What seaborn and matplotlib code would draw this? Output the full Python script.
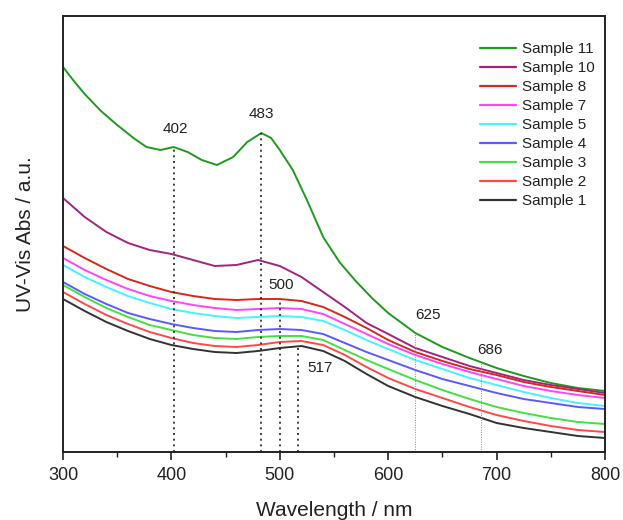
import numpy as np
import pandas as pd
import seaborn as sns
import matplotlib
matplotlib.use("Agg")
import matplotlib.pyplot as plt
from matplotlib.ticker import MultipleLocator

# ---------------- data ----------------
wavelength = [300, 320, 340, 360, 380, 400, 420, 440, 460, 480, 500, 520,
              540, 560, 580, 600, 625, 650, 675, 700, 725, 750, 775, 800]

sample_1 = [1.53, 1.41, 1.30, 1.21, 1.13, 1.07, 1.03, 1.00, 0.99, 1.01, 1.04, 1.06,
            1.01, 0.91, 0.78, 0.66, 0.55, 0.46, 0.38, 0.29, 0.24, 0.20, 0.16, 0.14]
sample_2 = [1.60, 1.48, 1.37, 1.28, 1.20, 1.14, 1.09, 1.06, 1.05, 1.07, 1.10, 1.11,
            1.07, 0.97, 0.85, 0.74, 0.63, 0.54, 0.45, 0.37, 0.31, 0.26, 0.22, 0.20]
sample_3 = [1.67, 1.55, 1.44, 1.35, 1.27, 1.22, 1.17, 1.14, 1.13, 1.15, 1.16, 1.16,
            1.12, 1.02, 0.92, 0.83, 0.72, 0.62, 0.53, 0.45, 0.39, 0.34, 0.30, 0.28]
sample_4 = [1.70, 1.58, 1.48, 1.39, 1.33, 1.28, 1.24, 1.21, 1.20, 1.22, 1.23, 1.22,
            1.18, 1.09, 1.00, 0.92, 0.82, 0.73, 0.66, 0.59, 0.53, 0.49, 0.45, 0.43]
sample_5 = [1.87, 1.75, 1.65, 1.56, 1.49, 1.43, 1.39, 1.36, 1.34, 1.35, 1.36, 1.35,
            1.31, 1.22, 1.12, 1.03, 0.92, 0.83, 0.74, 0.67, 0.60, 0.54, 0.49, 0.46]
sample_7 = [1.94, 1.82, 1.72, 1.63, 1.56, 1.51, 1.47, 1.44, 1.42, 1.43, 1.44, 1.43,
            1.38, 1.28, 1.18, 1.08, 0.97, 0.88, 0.80, 0.73, 0.66, 0.61, 0.57, 0.54]
sample_8 = [2.06, 1.94, 1.83, 1.73, 1.66, 1.60, 1.56, 1.53, 1.52, 1.53, 1.53, 1.51,
            1.45, 1.35, 1.24, 1.12, 1.00, 0.91, 0.83, 0.77, 0.70, 0.65, 0.61, 0.57]
sample_10 = [2.54, 2.35, 2.20, 2.09, 2.02, 1.98, 1.92, 1.86, 1.87, 1.92, 1.86, 1.75,
             1.60, 1.45, 1.29, 1.18, 1.04, 0.95, 0.86, 0.79, 0.72, 0.67, 0.63, 0.59]

wavelength_11 = [300, 310, 320, 335, 350, 365, 377, 390, 402, 415, 428, 442, 457, 470,
                 483, 492, 500, 512, 525, 540, 555, 570, 585, 600, 625, 650, 675, 700,
                 725, 750, 775, 800]
sample_11 = [3.85, 3.71, 3.58, 3.41, 3.27, 3.14, 3.05, 3.02, 3.05, 3.00, 2.92, 2.87, 2.95,
             3.10, 3.19, 3.14, 3.02, 2.82, 2.52, 2.15, 1.90, 1.71, 1.54, 1.39, 1.19, 1.05,
             0.94, 0.84, 0.76, 0.69, 0.64, 0.61]

series_names = ["Sample 11", "Sample 10", "Sample 8", "Sample 7", "Sample 5",
                "Sample 4", "Sample 3", "Sample 2", "Sample 1"]
series_values = [sample_11, sample_10, sample_8, sample_7, sample_5,
                 sample_4, sample_3, sample_2, sample_1]
series_colors = ["#1f9a1f", "#a3237f", "#d6281c", "#ff44ff", "#44f4ff",
                 "#5a5aff", "#44e044", "#ff4848", "#333333"]

# marked peaks: wavelength, the series the dotted line rises to
peak_wl = [402, 483, 500, 517, 625, 686]
peak_series = ["Sample 11", "Sample 11", "Sample 8", "Sample 1", "Sample 11", "Sample 11"]
peak_labels = ["402", "483", "500", "517", "625", "686"]

# ---------------- figure ----------------
sns.set_theme(style="ticks")
plt.rcParams["font.family"] = ["Liberation Sans", "DejaVu Sans"]

fig = plt.figure(figsize=(6.23, 5.20), dpi=100)
ax = fig.add_axes([63 / 623, 1 - 452 / 520, (605 - 63) / 623, (452 - 16) / 520])

rows = []
for name, vals in zip(series_names, series_values):
    wl = wavelength_11 if name == "Sample 11" else wavelength
    for w, v in zip(wl, vals):
        rows.append((name, w, v))
df = pd.DataFrame(rows, columns=["series", "wl", "abs"])

sns.lineplot(data=df, x="wl", y="abs", hue="series", hue_order=series_names,
             palette=series_colors, linewidth=1.4, ax=ax, legend=True, sort=True)
for ln in ax.get_lines():
    ln.set_solid_joinstyle("round")

# dotted peak markers
lookup = {n: (wavelength_11 if n == "Sample 11" else wavelength, v)
          for n, v in zip(series_names, series_values)}
strong = {"402", "483", "500", "517"}
offsets = {"402": (1, 8), "483": (0, 9), "500": (1, 5), "517": (16, -21),
           "625": (9, 8), "686": (6, 4)}
for w, s, lab in zip(peak_wl, peak_series, peak_labels):
    xs, ys = lookup[s]
    top = float(np.interp(w, xs, ys))
    if lab in strong:
        ax.vlines(w, 0, top, colors="#222222", linestyles=(0, (1.2, 2.2)), linewidth=1.2)
    else:
        ax.vlines(w, 0, top, colors="#888888", linestyles=(0, (1, 1.5)), linewidth=0.7)
    dx, dy = offsets[lab]
    ax.annotate(lab, (w, top), xytext=(dx, dy), textcoords="offset points",
                ha="center", va="bottom", fontsize=11, color="#222222")

ax.set_xlim(300, 800)
ax.set_ylim(0, 4.36)
ax.xaxis.set_major_locator(MultipleLocator(100))
ax.xaxis.set_minor_locator(MultipleLocator(50))
ax.tick_params(axis="x", which="major", direction="out", length=6, width=1.2,
               labelsize=13, color="#222222", labelcolor="#222222", pad=5)
ax.tick_params(axis="x", which="minor", direction="out", length=3.5, width=1.0,
               color="#222222")
ax.tick_params(axis="y", left=False, labelleft=False)
for sp in ax.spines.values():
    sp.set_visible(True)
    sp.set_linewidth(1.4)
    sp.set_color("#222222")

ax.set_xlabel("Wavelength / nm", fontsize=15, color="#222222", labelpad=12)
ax.set_ylabel("UV-Vis Abs / a.u.", fontsize=15, color="#222222", labelpad=20)

leg = ax.legend(loc="upper right", frameon=False, fontsize=11,
                handlelength=2.4, handletextpad=0.35, labelspacing=0.33,
                bbox_to_anchor=(1.0, 0.965), borderaxespad=0.3)
for line in leg.get_lines():
    line.set_linewidth(1.6)
for t in leg.get_texts():
    t.set_color("#222222")

fig.savefig("out.png", dpi=100)
